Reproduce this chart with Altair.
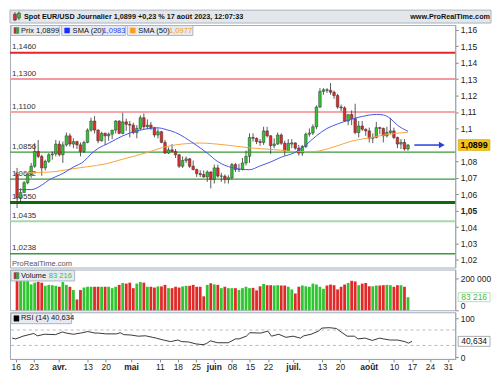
import altair as alt
import pandas as pd

# ---------------- data ----------------
opens = [1.0730, 1.0577, 1.0610, 1.0670, 1.0720, 1.0770, 1.0860, 1.0830, 1.0760, 1.0800,
         1.0840, 1.0845, 1.0905, 1.0840, 1.0900, 1.0955, 1.0905, 1.0920, 1.0900, 1.0860,
         1.0915, 1.0990, 1.1045, 1.0990, 1.0925, 1.0970, 1.0955, 1.0965, 1.0990, 1.1045,
         1.0970, 1.1040, 1.1025, 1.1020, 1.0975, 1.1000, 1.1065, 1.1010, 1.1020, 1.1005,
         1.0960, 1.0980, 1.0915, 1.0850, 1.0870, 1.0860, 1.0840, 1.0770, 1.0805, 1.0815,
         1.0770, 1.0750, 1.0725, 1.0720, 1.0705, 1.0735, 1.0690, 1.0760, 1.0710, 1.0710,
         1.0690, 1.0700, 1.0780, 1.0750, 1.0750, 1.0790, 1.0830, 1.0945, 1.0940, 1.0920,
         1.0915, 1.0985, 1.0955, 1.0895, 1.0905, 1.0960, 1.0910, 1.0865, 1.0905, 1.0912,
         1.0880, 1.0850, 1.0890, 1.0965, 1.0972, 1.1010, 1.1130, 1.1225, 1.1235, 1.1232,
         1.1220, 1.1200, 1.1130, 1.1125, 1.1045, 1.1085, 1.1060, 1.0975, 1.1015, 1.0995,
         1.0985, 1.0940, 1.0945, 1.1005, 1.1000, 1.0955, 1.0975, 1.0985, 1.0945, 1.0905,
         1.0915, 1.0875]
highs = [1.0760, 1.0636, 1.0680, 1.0730, 1.0790, 1.0910, 1.0930, 1.0840, 1.0810, 1.0850,
         1.0860, 1.0930, 1.0925, 1.0920, 1.0975, 1.0970, 1.0940, 1.0925, 1.0915, 1.0925,
         1.1000, 1.1065, 1.1075, 1.0995, 1.0980, 1.0975, 1.0975, 1.0990, 1.1050, 1.1050,
         1.1095, 1.1060, 1.1045, 1.1035, 1.1020, 1.1080, 1.1092, 1.1055, 1.1040, 1.1010,
         1.1000, 1.0985, 1.0930, 1.0885, 1.0905, 1.0875, 1.0845, 1.0830, 1.0830, 1.0820,
         1.0805, 1.0755, 1.0745, 1.0745, 1.0745, 1.0740, 1.0780, 1.0780, 1.0730, 1.0720,
         1.0715, 1.0790, 1.0790, 1.0785, 1.0820, 1.0865, 1.0970, 1.0970, 1.0945, 1.0935,
         1.1010, 1.1010, 1.0960, 1.0940, 1.0975, 1.0970, 1.0925, 1.0935, 1.0935, 1.0915,
         1.0900, 1.0900, 1.0975, 1.1000, 1.1025, 1.1140, 1.1245, 1.1245, 1.1245, 1.1276,
         1.1230, 1.1210, 1.1145, 1.1135, 1.1075, 1.1110, 1.1150, 1.1045, 1.1045, 1.1000,
         1.1005, 1.0970, 1.1040, 1.1010, 1.1005, 1.1010, 1.1065, 1.1005, 1.0950, 1.0935,
         1.0935, 1.0905]
lows = [1.0516, 1.0550, 1.0610, 1.0660, 1.0700, 1.0760, 1.0820, 1.0712, 1.0745, 1.0790,
        1.0810, 1.0830, 1.0830, 1.0790, 1.0890, 1.0890, 1.0880, 1.0875, 1.0830, 1.0850,
        1.0910, 1.0980, 1.0970, 1.0910, 1.0920, 1.0900, 1.0925, 1.0935, 1.0970, 1.0965,
        1.0965, 1.0985, 1.0945, 1.0965, 1.0940, 1.0990, 1.0995, 1.0995, 1.0990, 1.0945,
        1.0940, 1.0910, 1.0845, 1.0845, 1.0855, 1.0820, 1.0760, 1.0760, 1.0790, 1.0760,
        1.0745, 1.0705, 1.0705, 1.0700, 1.0675, 1.0635, 1.0665, 1.0700, 1.0675, 1.0665,
        1.0665, 1.0690, 1.0735, 1.0735, 1.0745, 1.0775, 1.0790, 1.0920, 1.0905, 1.0895,
        1.0900, 1.0945, 1.0845, 1.0880, 1.0900, 1.0900, 1.0835, 1.0865, 1.0880, 1.0870,
        1.0835, 1.0833, 1.0880, 1.0950, 1.0960, 1.0995, 1.1125, 1.1205, 1.1215, 1.1205,
        1.1180, 1.1120, 1.1105, 1.1040, 1.1020, 1.1020, 1.0965, 1.0945, 1.0985, 1.0955,
        1.0915, 1.0910, 1.0940, 1.0965, 1.0915, 1.0945, 1.0965, 1.0935, 1.0880, 1.0875,
        1.0865, 1.0865]
closes = [1.0577, 1.0610, 1.0670, 1.0720, 1.0770, 1.0860, 1.0830, 1.0760, 1.0800, 1.0840,
          1.0845, 1.0905, 1.0840, 1.0900, 1.0955, 1.0905, 1.0920, 1.0900, 1.0860, 1.0915,
          1.0990, 1.1045, 1.0990, 1.0925, 1.0970, 1.0955, 1.0965, 1.0990, 1.1045, 1.0970,
          1.1040, 1.1025, 1.1020, 1.0975, 1.1000, 1.1065, 1.1010, 1.1020, 1.1005, 1.0960,
          1.0980, 1.0915, 1.0850, 1.0870, 1.0860, 1.0840, 1.0770, 1.0805, 1.0815, 1.0770,
          1.0750, 1.0725, 1.0720, 1.0705, 1.0735, 1.0690, 1.0760, 1.0710, 1.0710, 1.0690,
          1.0700, 1.0780, 1.0750, 1.0750, 1.0790, 1.0830, 1.0945, 1.0940, 1.0920, 1.0915,
          1.0985, 1.0955, 1.0895, 1.0905, 1.0960, 1.0910, 1.0865, 1.0910, 1.0912, 1.0880,
          1.0850, 1.0890, 1.0965, 1.0972, 1.1010, 1.1130, 1.1225, 1.1235, 1.1232, 1.1220,
          1.1200, 1.1130, 1.1125, 1.1045, 1.1085, 1.1060, 1.0975, 1.1015, 1.0995, 1.0985,
          1.0940, 1.0945, 1.1005, 1.1000, 1.0955, 1.0975, 1.0985, 1.0945, 1.0905, 1.0915,
          1.0875, 1.0899]
volumes_k = [196, 190, 186, 196, 165, 176, 182, 176, 156, 162, 160, 156, 150, 180, 162, 150,
             129, 69, 129, 145, 150, 150, 150, 150, 150, 150, 150, 141, 150, 162, 174, 170,
             176, 141, 170, 180, 176, 150, 150, 145, 152, 152, 162, 141, 141, 150, 145, 152,
             156, 156, 162, 150, 150, 89, 162, 172, 165, 162, 141, 150, 141, 141, 141, 129,
             141, 150, 141, 143, 127, 153, 168, 160, 160, 158, 160, 158, 158, 150, 133, 107,
             150, 158, 153, 150, 170, 164, 150, 137, 158, 164, 160, 133, 150, 164, 174, 188,
             184, 160, 170, 174, 153, 153, 158, 158, 160, 162, 160, 150, 160, 160, 150, 83.216]

sma20_idx = [0, 4, 7, 9, 13, 16, 19, 21, 23, 26, 30, 34, 37, 40, 42, 45, 50, 54, 57, 61,
             66, 69, 72, 75, 79, 82, 85, 88, 91, 95, 98, 102, 104, 106, 108, 111]
sma20_val = [1.0628, 1.0628, 1.0655, 1.0686, 1.0726, 1.0765, 1.0800, 1.0845, 1.0878, 1.0910,
             1.0955, 1.0985, 1.0998, 1.1004, 1.0995, 1.0975, 1.0911, 1.0850, 1.0798, 1.0762,
             1.0749, 1.0772, 1.0796, 1.0825, 1.0855, 1.0900, 1.0955, 1.1000, 1.1027, 1.1056,
             1.1073, 1.1085, 1.1082, 1.1060, 1.1020, 1.0983]
sma50_idx = [0, 6, 11, 14, 20, 25, 30, 37, 41, 45, 52, 59, 66, 73, 80, 84, 90, 95, 101, 105, 111]
sma50_val = [1.0726, 1.0732, 1.0738, 1.0749, 1.0767, 1.0784, 1.0813, 1.0854, 1.0882, 1.0900,
             1.0911, 1.0900, 1.0882, 1.0871, 1.0859, 1.0859, 1.0888, 1.0923, 1.0946, 1.0963,
             1.0977]
rsi_idx = [0, 1, 3, 6, 7, 9, 12, 14, 15, 17, 19, 21, 23, 24, 26, 29, 30, 31, 33, 35, 37, 39,
           40, 42, 44, 46, 47, 49, 51, 53, 54, 55, 57, 60, 62, 63, 65, 66, 69, 71, 72, 74, 76,
           78, 80, 81, 83, 85, 86, 88, 90, 91, 93, 95, 96, 98, 100, 102, 103, 105, 107, 109,
           110, 111]
rsi_val = [49, 47, 54, 61, 55, 59, 58, 65, 62, 59, 62, 66, 62, 62, 60, 60, 63, 58, 57, 54, 55,
           51, 49, 44, 40, 44, 40, 39, 34, 32, 35, 42, 37, 37, 47, 47, 54, 63, 62, 67, 54, 59,
           51, 54, 49, 55, 59, 67, 75, 76, 74, 67, 54, 54, 47, 49, 43, 49, 47, 44, 44, 40, 36,
           40.634]

level_values = [1.1460, 1.1300, 1.1100, 1.0856, 1.0692, 1.0550, 1.0435, 1.0238]
level_labels = ["1,1460", "1,1300", "1,1100", "1,0856", "1,0692", "1,0550", "1,0435", "1,0238"]

tick_idx = [1, 6, 13, 21, 26, 33, 41, 46, 51, 56, 61, 66, 71, 78, 86, 91, 99, 106, 111, 116, 121]
tick_text = ["16", "23", "avr.", "13", "20", "mai", "11", "18", "25", "juin", "08", "15",
             "22", "juil.", "13", "20", "août", "10", "17", "24", "31"]
month_idx = [13, 33, 56, 78, 99]

price_ticks = [1.02, 1.03, 1.04, 1.05, 1.06, 1.07, 1.08, 1.10, 1.11, 1.12, 1.13, 1.14, 1.15, 1.16]
last_price = 1.0899
last_sma20 = "1,0983"
last_sma50 = "1,0977"
last_volume = 83216
last_rsi = 40.634
arrow_from, arrow_to = 112.8, 120.6

# ---------------- styles ----------------
level_colors = ["#e3262d", "#f29a9e", "#f4a6a9", "#3a9a3a", "#3a9a3a", "#0f6a0f", "#a8d8a8", "#3a9a3a"]
level_widths = [2, 2, 2, 1.2, 1.2, 3, 2, 1.5]
FONT = "Liberation Sans"
W = 448
HH = 13
PH = 244
VH = 41
RH = 47
LEG_FILL = "#e6ebf1"
LEG_STROKE = "#a9b6c4"
GREEN = "#2ec52e"
RED = "#e02a2a"

xsc = alt.Scale(domain=[-0.6, 123.0], nice=False, zero=False)
ysc = alt.Scale(domain=[1.0154, 1.1629], nice=False, zero=False)
vsc = alt.Scale(domain=[0, 260000], nice=False, zero=False)
rsc = alt.Scale(domain=[-5, 116], nice=False, zero=False)

n = len(closes)
df = pd.DataFrame({"i": list(range(n)), "open": opens, "high": highs, "low": lows,
                   "close": closes, "volume": [v * 1000 for v in volumes_k]})
df["dir"] = ["up" if c >= o else "down" for o, c in zip(opens, closes)]
sma20 = pd.DataFrame({"i": sma20_idx, "v": sma20_val})
sma50 = pd.DataFrame({"i": sma50_idx, "v": sma50_val})
rsi = pd.DataFrame({"i": rsi_idx, "v": rsi_val})
lv = pd.DataFrame({"v": level_values, "t": level_labels, "c": level_colors, "w": level_widths})
one = pd.DataFrame({"k": [0]})


def box(x0, x1, y0, y1, fill, stroke=LEG_STROKE, sw=1):
    return alt.Chart(one).mark_rect(fill=fill, stroke=stroke, strokeWidth=sw).encode(
        x=alt.value(x0), x2=alt.value(x1), y=alt.value(y0), y2=alt.value(y1))


def label(x, y, s, color="#000", size=8, weight="normal", align="left"):
    return alt.Chart(one).mark_text(text=s, color=color, fontSize=size, fontWeight=weight,
                                    align=align, baseline="middle", font=FONT).encode(
        x=alt.value(x), y=alt.value(y))


def tag_shape(half_w, half_h):
    r = half_h / half_w
    return f"M-1,-{r:.3f}L1,-{r:.3f}L1,{r:.3f}L-1,{r:.3f}Z"


# ---------------- header ----------------
header = alt.layer(
    box(0, 484, 0, HH, "#e3e7ec", "#aab3bd"),
    alt.Chart(one).mark_rule(color="#333", strokeWidth=0.8).encode(
        x=alt.value(5), y=alt.value(2), y2=alt.value(11)),
    alt.Chart(one).mark_rule(color="#333", strokeWidth=0.8).encode(
        x=alt.value(9), y=alt.value(1.5), y2=alt.value(10)),
    box(3.5, 6.5, 4, 10, RED, "#333", 0.5),
    box(7.5, 10.5, 3, 8, GREEN, "#333", 0.5),
    label(14, 7, "Spot EUR/USD Journalier 1,0899 +0,23 % 17 août 2023, 12:07:33",
          "#111", 7.3, "bold"),
    label(483, 7, "www.ProRealTime.com", "#111", 7.3, "bold", "right"),
).properties(width=W, height=HH, view=alt.ViewBackground(strokeOpacity=0))

# ---------------- price panel ----------------
price_axis = alt.Axis(
    orient="right", values=price_ticks, title=None, grid=False,
    labelExpr="replace(format(datum.value, '.2~f'), '.', ',')",
    labelFontWeight={"condition": {"test": "abs(datum.value - 1.05) < 0.0001", "value": "bold"},
                     "value": "normal"},
    labelFont=FONT, labelFontSize=8.5, labelColor="#222", tickSize=3, tickColor="#888",
    domainColor="#9aa4ae", labelPadding=2)


def PY(field):
    return alt.Y(field, scale=ysc, axis=price_axis)


x_noaxis = alt.X("i:Q", scale=xsc, axis=None)

levels_rule = alt.Chart(lv).mark_rule().encode(
    y=PY("v:Q"),
    color=alt.Color("c:N", scale=None),
    strokeWidth=alt.StrokeWidth("w:Q", scale=None))
levels_text = alt.Chart(lv).mark_text(align="left", baseline="bottom", dy=-1.5, fontSize=8,
                                      color="#333", font=FONT).encode(
    x=alt.value(2), y=PY("v:Q"), text="t:N")
wicks = alt.Chart(df).mark_rule(color="#333", strokeWidth=0.8).encode(
    x=x_noaxis, y=PY("low:Q"), y2="high:Q")
bodies = alt.Chart(df).mark_bar(size=2.6, stroke="#333", strokeWidth=0.5).encode(
    x=x_noaxis, y=PY("open:Q"), y2="close:Q",
    color=alt.Color("dir:N", scale=alt.Scale(domain=["up", "down"], range=[GREEN, RED]),
                    legend=None))
sma20_line = alt.Chart(sma20).mark_line(color="#4557ea", strokeWidth=1, interpolate="monotone").encode(
    x=x_noaxis, y=PY("v:Q"))
sma50_line = alt.Chart(sma50).mark_line(color="#f5a53c", strokeWidth=1, interpolate="monotone").encode(
    x=x_noaxis, y=PY("v:Q"))

arrow_df = pd.DataFrame({"a": [arrow_from], "b": [arrow_to], "p": [last_price]})
arrow_line = alt.Chart(arrow_df).mark_rule(color="#2a3fe0", strokeWidth=1.5).encode(
    x=alt.X("a:Q", scale=xsc, axis=None), x2="b:Q", y=PY("p:Q"))
arrow_head = alt.Chart(arrow_df).mark_point(shape="triangle-right", filled=True, size=45,
                                            color="#2a3fe0", opacity=1).encode(
    x=alt.X("b:Q", scale=xsc, axis=None), y=PY("p:Q"))
price_tag = alt.Chart(arrow_df).mark_point(shape=tag_shape(16, 5.5), filled=True, size=32 * 32,
                                           fill="#f5c21b", stroke="#c9a000", strokeWidth=0.5,
                                           opacity=1).encode(
    x=alt.value(W + 19), y=PY("p:Q"))
price_tag_text = alt.Chart(arrow_df).mark_text(text="1,0899", fontSize=9, fontWeight="bold",
                                               font=FONT, color="#000", align="center",
                                               baseline="middle").encode(
    x=alt.value(W + 19), y=PY("p:Q"))

price_legend = [
    box(1, 50, 0.5, 10.5, LEG_FILL),
    box(4, 6.5, 2.5, 8.5, "#d42020", "#777", 0.5),
    box(6.5, 9, 2.5, 8.5, "#22b022", "#777", 0.5),
    label(11, 5.7, "Prix 1,0899", "#111", 7.6),
    box(52, 116, 0.5, 10.5, LEG_FILL),
    box(55, 60, 3, 8, "#1a2cff", "#1a2cff", 0.5),
    label(63, 5.7, "SMA (20)", "#111", 7.6),
    label(93, 5.7, last_sma20, "#3344ff", 7.6),
    box(118, 184, 0.5, 10.5, LEG_FILL),
    box(121, 126, 3, 8, "#ff9a1a", "#ff9a1a", 0.5),
    label(129, 5.7, "SMA (50)", "#111", 7.6),
    label(160, 5.7, last_sma50, "#f59a20", 7.6),
    label(2, PH - 4, "ProRealTime.com", "#555", 7.6),
]

price = alt.layer(levels_rule, levels_text, wicks, bodies, sma50_line, sma20_line,
                  arrow_line, arrow_head, price_tag, price_tag_text, *price_legend
                  ).properties(width=W, height=PH)

# ---------------- volume panel ----------------
vol_axis = alt.Axis(orient="right", values=[0, 200000], title=None, grid=False,
                    labelExpr="replace(format(datum.value, ','), ',', ' ')", labelFlush=True,
                    labelFont=FONT, labelFontSize=8.5, labelColor="#222", tickSize=3,
                    tickColor="#888", domainColor="#9aa4ae", labelPadding=2)


def VY(field):
    return alt.Y(field, scale=vsc, axis=vol_axis)


vol_bars = alt.Chart(df).mark_bar(size=2.8).encode(
    x=x_noaxis, y=VY("volume:Q"),
    color=alt.Color("dir:N", scale=alt.Scale(domain=["up", "down"], range=["#3cbf3c", "#d64848"]),
                    legend=None))
vol_df = pd.DataFrame({"v": [last_volume]})
vol_tag = alt.Chart(vol_df).mark_point(shape=tag_shape(16, 4.5), filled=True, size=32 * 32,
                                       fill="#ffffff", stroke="#9ccf9c", strokeWidth=0.7,
                                       opacity=1).encode(
    x=alt.value(W + 19), y=VY("v:Q"))
vol_tag_text = alt.Chart(vol_df).mark_text(text="83 216", fontSize=8.5, font=FONT, color="#44c044",
                                           align="center", baseline="middle").encode(
    x=alt.value(W + 19), y=VY("v:Q"))
vol_legend = [
    box(1, 65, 1, 11.5, LEG_FILL),
    box(4, 6.5, 3, 9.5, "#d42020", "#777", 0.5),
    box(6.5, 9, 3, 9.5, "#22b022", "#777", 0.5),
    label(11, 6.3, "Volume", "#111", 7.6),
    label(39, 6.3, "83 216", "#3cbf3c", 7.6),
]
volume = alt.layer(vol_bars, vol_tag, vol_tag_text, *vol_legend).properties(width=W, height=VH)

# ---------------- RSI panel ----------------
x_axis = alt.Axis(
    orient="bottom", values=tick_idx, title=None, grid=False,
    labelExpr="[" + ",".join(f"'{t}'" for t in tick_text) + "][indexof([" +
              ",".join(str(t) for t in tick_idx) + "], datum.value)]",
    labelFontWeight={"condition": {"test": "indexof([" + ",".join(str(m) for m in month_idx) +
                                           "], datum.value) >= 0", "value": "bold"},
                     "value": "normal"},
    labelFont=FONT, labelFontSize=8.5, labelColor="#222", tickSize=3, tickColor="#888",
    domainColor="#9aa4ae", labelPadding=1, labelFlush=False)
rsi_axis = alt.Axis(orient="right", values=[0, 100], title=None, grid=False,
                    labelFont=FONT, labelFontSize=8.5, labelColor="#222", tickSize=3,
                    tickColor="#888", domainColor="#9aa4ae", labelPadding=2)


def RY(field):
    return alt.Y(field, scale=rsc, axis=rsi_axis)


rsi_levels = pd.DataFrame({"v": [70, 30]})
rsi_dash = alt.Chart(rsi_levels).mark_rule(color="#a8a8a8", strokeWidth=0.8, strokeDash=[3, 3]).encode(
    y=RY("v:Q"))
rsi_line = alt.Chart(rsi).mark_line(color="#222", strokeWidth=0.9).encode(
    x=alt.X("i:Q", scale=xsc, axis=x_axis), y=RY("v:Q"))
rsi_df = pd.DataFrame({"v": [last_rsi]})
rsi_tag = alt.Chart(rsi_df).mark_point(shape=tag_shape(16, 5), filled=True, size=32 * 32,
                                       fill="#ffffff", stroke="#888", strokeWidth=0.7,
                                       opacity=1).encode(
    x=alt.value(W + 19), y=RY("v:Q"))
rsi_tag_text = alt.Chart(rsi_df).mark_text(text="40,634", fontSize=8.5, font=FONT, color="#111",
                                           align="center", baseline="middle").encode(
    x=alt.value(W + 19), y=RY("v:Q"))
rsi_legend = [
    box(1, 62, 1, 11.5, LEG_FILL),
    box(4, 9, 3.5, 9, "#000", "#000", 0.5),
    label(11, 6.3, "RSI (14) 40,634", "#111", 7.6),
]
rsi_panel = alt.layer(rsi_dash, rsi_line, rsi_tag, rsi_tag_text, *rsi_legend).properties(
    width=W, height=RH)

chart = alt.vconcat(header, price, volume, rsi_panel, spacing=0).properties(
    padding={"left": 0, "top": 0, "right": 0, "bottom": 0}
).configure_view(stroke="#a3acb6", strokeWidth=1).configure_concat(spacing=0)

chart.save("out.html", embed_options={"renderer": "svg", "actions": False})
